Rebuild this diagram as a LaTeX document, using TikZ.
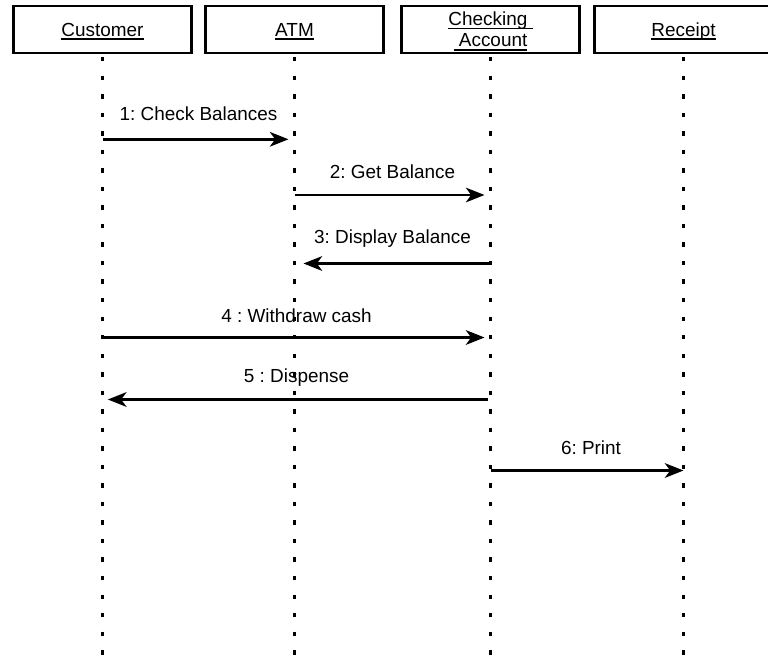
\documentclass[tikz,border=0pt]{standalone}
\usepackage{fontspec}
\setmainfont{Liberation Sans}
\usetikzlibrary{arrows.meta}
\frenchspacing

\newcommand{\ulbl}[1]{\setbox2\hbox{#1}\smash{\rlap{\rule[-2.9pt]{\wd2}{1.2pt}}}\smash{\box2}\vphantom{C}}

\tikzset{
  objbox/.style={draw, line width=1.8pt, minimum width=133.5pt, minimum height=35pt, inner sep=0pt, align=center, font=\fontsize{14.2pt}{16pt}\selectfont},
  lifeline/.style={line width=1.7pt, dash pattern=on 3.3pt off 10.6pt, dash phase=11.65pt},
  msg/.style={line width=1.9pt, -{Stealth[length=14pt, width=11pt, inset=4pt]}},
  msglbl/.style={inner sep=0pt, anchor=base, font=\fontsize{14.2pt}{16pt}\selectfont}
}

\begin{document}
\begin{tikzpicture}[x=0.75pt, y=-0.75pt]
\useasboundingbox (0,0) rectangle (768,657);
\clip (0,0) rectangle (768,657);
% objects
\node[objbox] (cust) at (102.5,29.5) {\ulbl{Customer}};
\node[objbox] (atm) at (294.5,29.5) {\ulbl{ATM}};
\node[objbox] (chk) at (490.5,29.5) {\ulbl{Checking }\\\ulbl{ Account}};
\node[objbox] (rcpt) at (683.5,29.5) {\ulbl{Receipt}};
% lifelines
\coordinate (bot) at (0,660);
\draw[lifeline] (cust.south) -- (cust |- bot);
\draw[lifeline] (atm.south) -- (atm |- bot);
\draw[lifeline] (chk.south) -- (chk |- bot);
\draw[lifeline] (rcpt.south) -- (rcpt |- bot);
% messages
\coordinate (r1) at (0,139.3);
\coordinate (r2) at (0,195);
\coordinate (r3) at (0,263.5);
\coordinate (r4) at (0,337.5);
\coordinate (r5) at (0,399.5);
\coordinate (r6) at (0,470.5);
\draw[msg, shorten >=4.5pt] (cust |- r1) -- node[msglbl, yshift=13.95pt] (l1) {1: Check Balances} (atm |- r1);
\draw[msg, shorten >=4.5pt] (atm |- r2) -- node[msglbl, yshift=12.5pt] (l2) {2: Get Balance} (chk |- r2);
\draw[msg, shorten >=6.75pt] (chk |- r3) -- node[msglbl, yshift=15pt] (l3) {3: Display Balance} (atm |- r3);
\draw[msg, shorten >=4.5pt] (cust |- r4) -- node[msglbl, yshift=11pt] (l4) {4 : Withdraw cash} (chk |- r4);
\draw[msg, shorten >=4pt, shorten <=2.25pt] (chk |- r5) -- node[msglbl, yshift=12.75pt] (l5) {5 : Dispense} (cust |- r5);
\draw[msg] (chk |- r6) -- node[msglbl, yshift=11.8pt, xshift=3pt] (l6) {6: Print} (rcpt |- r6);
\end{tikzpicture}
\end{document}
